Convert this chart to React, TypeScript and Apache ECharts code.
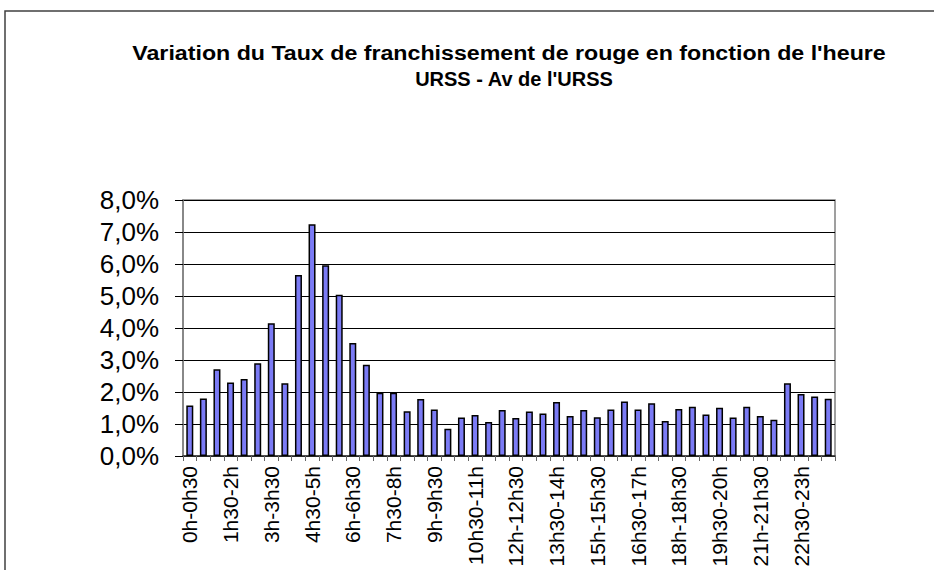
import React, { useEffect, useRef } from "react";
import * as echarts from "echarts";

const categories: string[] = [
  "0h-0h30", "0h30-1h", "1h-1h30", "1h30-2h", "2h-2h30", "2h30-3h",
  "3h-3h30", "3h30-4h", "4h-4h30", "4h30-5h", "5h-5h30", "5h30-6h",
  "6h-6h30", "6h30-7h", "7h-7h30", "7h30-8h", "8h-8h30", "8h30-9h",
  "9h-9h30", "9h30-10h", "10h-10h30", "10h30-11h", "11h-11h30", "11h30-12h",
  "12h-12h30", "12h30-13h", "13h-13h30", "13h30-14h", "14h-14h30", "14h30-15h",
  "15h-15h30", "15h30-16h", "16h-16h30", "16h30-17h", "17h-17h30", "17h30-18h",
  "18h-18h30", "18h30-19h", "19h-19h30", "19h30-20h", "20h-20h30", "20h30-21h",
  "21h-21h30", "21h30-22h", "22h-22h30", "22h30-23h", "23h-23h30", "23h30-0h",
];

// taux de franchissement (%)
const tauxValues: number[] = [
  1.58, 1.80, 2.71, 2.30, 2.41, 2.90, 4.15, 2.27, 5.66, 7.24, 5.96, 5.04,
  3.53, 2.85, 1.98, 1.98, 1.40, 1.78, 1.45, 0.85, 1.20, 1.28, 1.06, 1.44,
  1.19, 1.39, 1.33, 1.69, 1.25, 1.44, 1.21, 1.45, 1.70, 1.45, 1.65, 1.09,
  1.47, 1.54, 1.30, 1.51, 1.20, 1.54, 1.25, 1.13, 2.27, 1.94, 1.86, 1.79,
];

const titleLines: string[] = [
  "Variation du Taux de franchissement de rouge en fonction de l'heure",
  "URSS - Av de l'URSS",
];

const FONT = "'Liberation Sans', Arial, sans-serif";

export default function App() {
  const ref = useRef<HTMLDivElement>(null);
  useEffect(() => {
    if (!ref.current) return;
    const chart = echarts.init(ref.current, undefined, { renderer: "svg" });
    chart.setOption({
      animation: false,
      backgroundColor: "#ffffff",
      graphic: [
        {
          type: "rect",
          shape: { x: 5, y: 11, width: 1200, height: 1000 },
          style: { fill: "none", stroke: "#404040", lineWidth: 1.5 },
          z: 0,
        },
        {
          type: "text",
          x: 509,
          y: 53,
          scaleX: 1.16,
          style: {
            text: titleLines[0],
            font: `bold 20px ${FONT}`,
            fill: "#000",
            align: "center",
            verticalAlign: "middle",
          },
        },
        {
          type: "text",
          x: 514,
          y: 79,
          style: {
            text: titleLines[1],
            font: `bold 20px ${FONT}`,
            fill: "#000",
            align: "center",
            verticalAlign: "middle",
          },
        },
      ],
      grid: {
        left: 183,
        right: 99,
        top: 200,
        bottom: 114,
        show: true,
        borderColor: "#808080",
        borderWidth: 1.5,
        backgroundColor: "#ffffff",
      },
      xAxis: {
        type: "category",
        data: categories,
        boundaryGap: true,
        axisLine: { show: true, lineStyle: { color: "#333", width: 1.5 } },
        axisTick: {
          show: true,
          interval: 0,
          alignWithLabel: false,
          length: 5,
          lineStyle: { color: "#666" },
        },
        axisLabel: {
          interval: 2,
          rotate: 90,
          margin: 10,
          fontFamily: FONT,
          fontSize: 21,
          color: "#000",
        },
        splitLine: { show: false },
      },
      yAxis: {
        type: "value",
        min: 0,
        max: 8,
        interval: 1,
        axisLine: { show: true, lineStyle: { color: "#808080", width: 1.5 } },
        axisTick: { show: true, length: 8, lineStyle: { color: "#000" } },
        axisLabel: {
          margin: 24,
          fontFamily: FONT,
          fontSize: 26,
          color: "#000",
          formatter: (v: number) => v.toFixed(1).replace(".", ",") + "%",
        },
        splitLine: { show: true, lineStyle: { color: "#000", width: 1 } },
      },
      series: [
        {
          type: "bar",
          data: tauxValues,
          barWidth: 7,
          itemStyle: {
            color: "#7b7bf5",
            borderColor: "#000",
            borderWidth: 1.5,
          },
        },
      ],
    });
    return () => chart.dispose();
  }, []);
  return (
    <div
      ref={ref}
      style={{ position: "fixed", left: 0, top: 0, width: 934, height: 570 }}
    />
  );
}
